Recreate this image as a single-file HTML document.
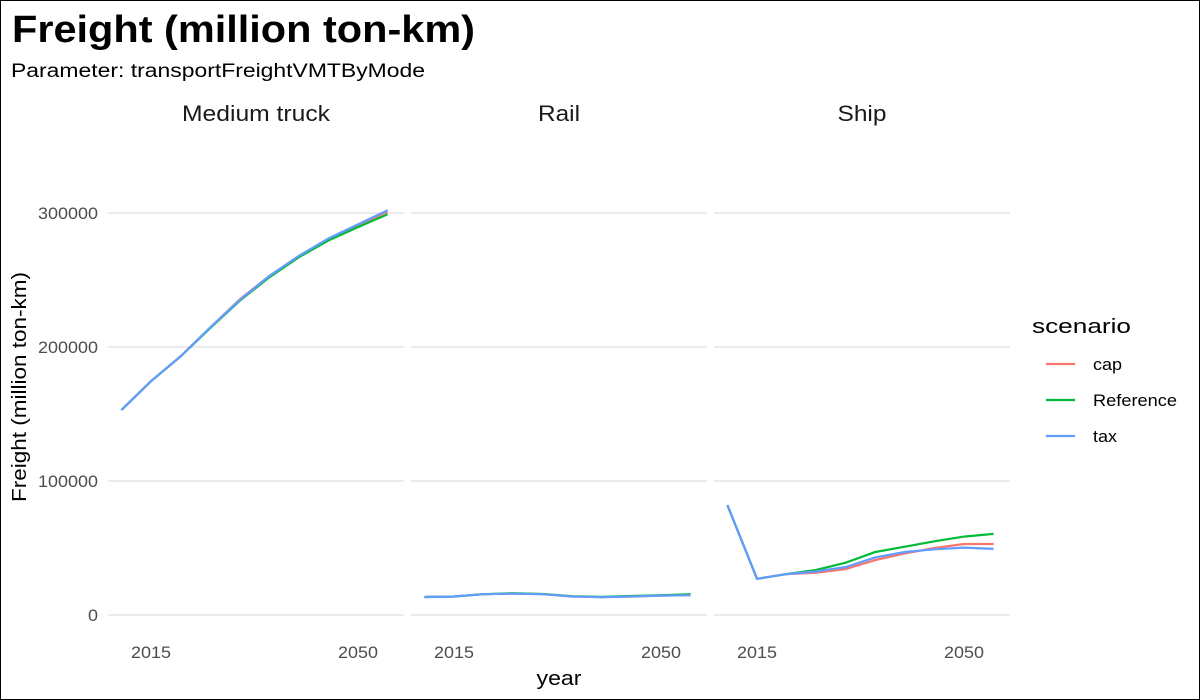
<!DOCTYPE html>
<html><head><meta charset="utf-8"><style>
body{margin:0;background:#fff}
svg{display:block;font-family:"Liberation Sans",Arial,sans-serif}
</style></head><body>
<svg id="chart" width="1200" height="700" viewBox="0 0 1200 700">
<rect x="0.5" y="0.5" width="1199" height="699" fill="#fff" stroke="#000"/>
<text x="12" y="42" font-size="38" font-weight="bold" fill="#000" textLength="463" lengthAdjust="spacingAndGlyphs">Freight (million ton-km)</text>
<text x="11" y="77" font-size="19" fill="#000" textLength="414" lengthAdjust="spacingAndGlyphs">Parameter: transportFreightVMTByMode</text>
<text x="26" y="387" font-size="20" fill="#000" text-anchor="middle" textLength="230" lengthAdjust="spacingAndGlyphs" transform="rotate(-90 26 387)">Freight (million ton-km)</text>
<text x="559" y="685" font-size="20" fill="#000" text-anchor="middle" textLength="45" lengthAdjust="spacingAndGlyphs">year</text>
<g id="panels"></g>
<g id="legend">
<text x="1032" y="333" font-size="20" fill="#000" textLength="99" lengthAdjust="spacingAndGlyphs">scenario</text>
</g>
</svg>
<script>
const years=[2010,2015,2020,2025,2030,2035,2040,2045,2050,2055];
const panelNames=["Medium truck","Rail","Ship"];
const scenarios=["cap","Reference","tax"];
const colors=["#F8766D","#00BA38","#619CFF"];
const yTicks=[0,100000,200000,300000];
const yTickLabels=["0","100000","200000","300000"];
const xTicks=[2015,2050];
const truckCap=[153000,174500,193000,214500,235500,253000,268000,280500,291000,301000];
const truckRef=[153000,174500,193000,214000,234500,252000,267000,279500,289500,299000];
const truckTax=[153000,174500,193000,214500,235000,253000,268000,281000,291500,302000];
const railCap=[13400,13800,15500,16000,15500,13800,13300,13800,14500,14800];
const railRef=[13400,13800,15500,16300,15700,14000,13500,14200,14800,15500];
const railTax=[13400,13800,15500,16000,15500,13800,13300,13800,14500,14800];
const shipCap=[82000,27000,30500,31500,34300,41000,46000,50000,53000,53000];
const shipRef=[82000,27000,30500,33600,39000,47000,51000,55000,58500,60500];
const shipTax=[82000,27000,30500,32500,35800,43000,47000,49000,50300,49300];
const data=[[truckCap,truckRef,truckTax],[railCap,railRef,railTax],[shipCap,shipRef,shipTax]];

const NS="http://www.w3.org/2000/svg";
const panelX=[108,411,714], panelW=296;
const stripLen=[148,42,49];
const y=v=>615-v*134/100000;
const xFor=p=>yr=>panelX[p]+43+(yr-2015)*(207/35);
function mk(tag,attrs,parent){const e=document.createElementNS(NS,tag);for(const k in attrs)e.setAttribute(k,attrs[k]);parent.appendChild(e);return e;}
const g=document.getElementById("panels");
yTicks.forEach((t,i)=>{
  const lab=yTickLabels[i];
  const l=mk("text",{x:98,y:y(t)+6,"font-size":16.5,fill:"#4d4d4d","text-anchor":"end",textLength:lab.length*10,lengthAdjust:"spacingAndGlyphs"},g);
  
  
  l.textContent=lab;
});
panelNames.forEach((name,p)=>{
  const pg=mk("g",{},g);
  
  
  const x=xFor(p);
  yTicks.forEach(t=>{
    const gl=mk("line",{x1:panelX[p],x2:panelX[p]+panelW,y1:y(t),y2:y(t),stroke:"#ebebeb","stroke-width":2},pg);
    
    
  });
  const st=mk("text",{x:panelX[p]+panelW/2,y:121,"font-size":22,fill:"#1a1a1a","text-anchor":"middle",textLength:stripLen[p],lengthAdjust:"spacingAndGlyphs"},pg);
  
  
  st.textContent=name;
  xTicks.forEach(t=>{
    const xl=mk("text",{x:x(t),y:658,"font-size":16.5,fill:"#4d4d4d","text-anchor":"middle",textLength:40,lengthAdjust:"spacingAndGlyphs"},pg);
    
    
    xl.textContent=t;
  });
  data[p].forEach((series,s)=>{
    const pts=years.map((yr,i)=>x(yr).toFixed(1)+","+y(series[i]).toFixed(1)).join(" ");
    const pl=mk("polyline",{points:pts,fill:"none",stroke:colors[s],"stroke-width":2.2},pg);
    
    
  });
});
const legLen=[29,84,24];
const lg=document.getElementById("legend");
scenarios.forEach((s,i)=>{
  const ly=364+i*36;
  const ln=mk("line",{x1:1046,x2:1075,y1:ly,y2:ly,stroke:colors[i],"stroke-width":2.2},lg);
  
  
  const lt=mk("text",{x:1093,y:ly+6,"font-size":16.5,fill:"#000",textLength:legLen[i],lengthAdjust:"spacingAndGlyphs"},lg);
  
  
  lt.textContent=s;
});
</script>
</body></html>
